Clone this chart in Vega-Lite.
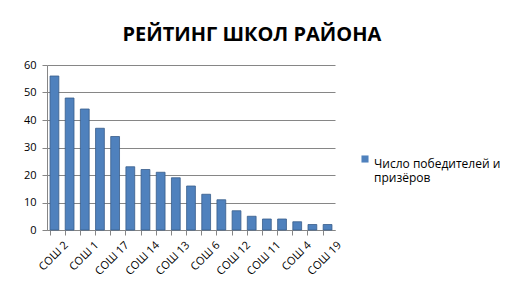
{
  "$schema": "https://vega.github.io/schema/vega-lite/v6.json",
  "width": 288,
  "height": 165,
  "padding": {"left": 23, "top": 25, "right": 5, "bottom": 5},
  "background": "white",
  "title": {
    "text": "РЕЙТИНГ ШКОЛ РАЙОНА",
    "font": "Open Sans",
    "fontSize": 20,
    "fontWeight": "bold",
    "color": "#000000",
    "anchor": "start",
    "offset": 14,
    "dx": 99
  },
  "data": {
    "values": [
      {"school": "СОШ 2", "value": 56, "series": "Число победителей и призёров"},
      {"school": "СОШ 5", "value": 48, "series": "Число победителей и призёров"},
      {"school": "СОШ 1", "value": 44, "series": "Число победителей и призёров"},
      {"school": "СОШ 3", "value": 37, "series": "Число победителей и призёров"},
      {"school": "СОШ 17", "value": 34, "series": "Число победителей и призёров"},
      {"school": "СОШ 9", "value": 23, "series": "Число победителей и призёров"},
      {"school": "СОШ 14", "value": 22, "series": "Число победителей и призёров"},
      {"school": "СОШ 7", "value": 21, "series": "Число победителей и призёров"},
      {"school": "СОШ 13", "value": 19, "series": "Число победителей и призёров"},
      {"school": "СОШ 10", "value": 16, "series": "Число победителей и призёров"},
      {"school": "СОШ 6", "value": 13, "series": "Число победителей и призёров"},
      {"school": "СОШ 15", "value": 11, "series": "Число победителей и призёров"},
      {"school": "СОШ 12", "value": 7, "series": "Число победителей и призёров"},
      {"school": "СОШ 8", "value": 5, "series": "Число победителей и призёров"},
      {"school": "СОШ 11", "value": 4, "series": "Число победителей и призёров"},
      {"school": "СОШ 16", "value": 4, "series": "Число победителей и призёров"},
      {"school": "СОШ 4", "value": 3, "series": "Число победителей и призёров"},
      {"school": "СОШ 18", "value": 2, "series": "Число победителей и призёров"},
      {"school": "СОШ 19", "value": 2, "series": "Число победителей и призёров"}
    ]
  },
  "mark": {"type": "bar", "stroke": "#385D8A", "strokeWidth": 0.8},
  "encoding": {
    "x": {
      "field": "school",
      "type": "nominal",
      "sort": null,
      "scale": {"paddingInner": 0.42, "paddingOuter": 0.2},
      "axis": {
        "title": null,
        "labelAngle": -45,
        "labelFont": "Open Sans",
        "labelFontSize": 11,
        "labelColor": "#000000",
        "labelExpr": "indexof(['СОШ 2','СОШ 1','СОШ 17','СОШ 14','СОШ 13','СОШ 6','СОШ 12','СОШ 11','СОШ 4','СОШ 19'], datum.value) >= 0 ? datum.label : ''",
        "domainColor": "#868686",
        "tickColor": "#868686",
        "tickSize": 5,
        "bandPosition": 0,
        "labelOffset": 8,
        "labelPadding": 4
      }
    },
    "y": {
      "field": "value",
      "type": "quantitative",
      "scale": {"domain": [0, 60]},
      "axis": {
        "title": null,
        "values": [0, 10, 20, 30, 40, 50, 60],
        "labelFont": "Open Sans",
        "labelFontSize": 11,
        "labelColor": "#000000",
        "labelPadding": 6,
        "gridColor": "#868686",
        "gridWidth": 1,
        "domainColor": "#868686",
        "tickColor": "#868686",
        "tickSize": 5
      }
    },
    "color": {
      "field": "series",
      "type": "nominal",
      "scale": {"range": ["#4F81BD"]},
      "legend": {
        "title": null,
        "orient": "none",
        "legendX": 312,
        "legendY": 88,
        "symbolType": "square",
        "symbolSize": 50,
        "symbolStrokeWidth": 0,
        "symbolOffset": 0,
        "labelOffset": 3,
        "labelFont": "Open Sans",
        "labelFontSize": 12,
        "labelColor": "#000000",
        "labelLimit": 200,
        "labelBaseline": "top",
        "labelExpr": "['Число победителей и', 'призёров']"
      }
    }
  },
  "config": {"view": {"stroke": null}}
}
